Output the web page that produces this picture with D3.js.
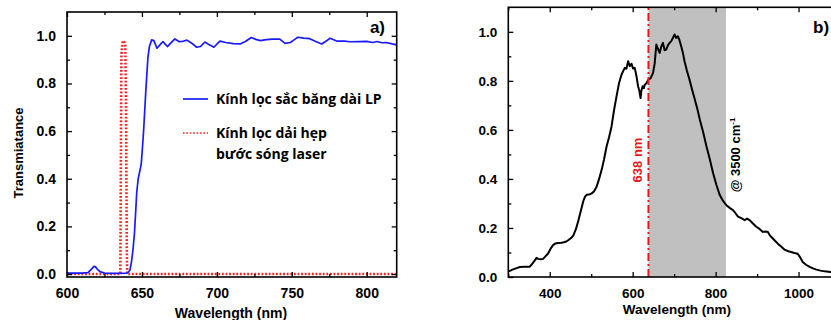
<!DOCTYPE html>
<html lang="vi">
<head>
<meta charset="utf-8">
<title>Transmittance and spectrum</title>
<script src="https://d3js.org/d3.v7.min.js"></script>
<style>
  body { margin: 0; background: #fff; }
  svg text { font-family: "Liberation Sans", Arial, sans-serif; font-weight: bold; }
  .legend { font-family: "Open Sans", "Noto Sans", sans-serif; font-weight: 700; font-size: 14px; }
</style>
</head>
<body>
<svg id="chart" width="831" height="320"></svg>
<script>
// ---- panel a) : filter transmittance ----
var lpWl = [600,605,610,614,616,618,619,620,622,625,630,635,640,641,642,643,644,645,646,646.5,647.5,648.5,649.5,650,651,652,652.5,653.5,654,655,656.5,658,660,662,664,665.5,667,669,672,675,678,680,683,686.5,689,692,695,698,702,706,711,715.5,719,723,726,729,733,737,742,745.5,749,752,754,758,762,766,770,773,775.5,780,785,789,795,800,804,807,810,813,817,820];
var lpT  = [0.004,0.004,0.004,0.006,0.018,0.032,0.03,0.022,0.01,0.004,0.003,0.003,0.004,0.008,0.017,0.05,0.1,0.17,0.28,0.34,0.4,0.43,0.46,0.5,0.59,0.7,0.76,0.86,0.91,0.955,0.983,0.98,0.948,0.962,0.976,0.965,0.955,0.968,0.987,0.975,0.978,0.982,0.97,0.952,0.955,0.974,0.962,0.952,0.978,0.972,0.967,0.966,0.976,0.993,0.985,0.98,0.984,0.986,0.986,0.968,0.972,0.985,0.994,0.99,0.988,0.976,0.966,0.978,0.99,0.978,0.978,0.975,0.976,0.977,0.972,0.976,0.971,0.972,0.966,0.962];
var laserWl = [600,635.6,635.9,636.3,637.0,637.6,638.2,638.9,639.4,639.9,640.2,820];
var laserT  = [0,0,0.4,0.92,0.97,0.98,0.975,0.96,0.7,0.1,0,0];

// ---- panel b) : emission spectrum ----
var spWl = [300,310,320,328,340,352,358,364,368,372,378,384,390,396,402,408,414,420,428,434,440,446,452,457,463,469,475,481,485,489,495,501,507,513,519,525,531,537,543,549,555,561,567,573,577,581,585,589,593,597,601,605,609,613,616,619,621,624,627,629,633,638,643,649,653,657,661,665,669,673,677,681,685,689,693,697,701,705,709,713,717,721,725,731,737,744,750,756,762,770,778,786,794,802,810,818,826,834,842,848,854,862,870,876,882,890,898,906,914,920,926,930,934,942,950,958,966,974,982,990,998,1004,1010,1018,1027,1035,1043,1053,1063,1077,1090,1100];
var spI  = [0.022,0.03,0.036,0.041,0.042,0.042,0.055,0.068,0.078,0.074,0.072,0.074,0.085,0.096,0.115,0.13,0.137,0.139,0.14,0.142,0.145,0.152,0.16,0.17,0.195,0.23,0.27,0.31,0.328,0.335,0.336,0.341,0.35,0.368,0.4,0.436,0.48,0.532,0.57,0.614,0.68,0.737,0.79,0.825,0.84,0.853,0.85,0.88,0.86,0.87,0.85,0.853,0.82,0.778,0.76,0.73,0.76,0.778,0.77,0.784,0.79,0.805,0.81,0.832,0.87,0.948,0.93,0.914,0.94,0.955,0.925,0.928,0.945,0.955,0.962,0.975,0.989,0.975,0.982,0.965,0.941,0.915,0.88,0.84,0.805,0.76,0.723,0.685,0.641,0.59,0.532,0.48,0.423,0.375,0.334,0.31,0.293,0.282,0.273,0.26,0.246,0.24,0.232,0.238,0.232,0.218,0.205,0.196,0.184,0.186,0.184,0.172,0.164,0.15,0.136,0.124,0.112,0.106,0.102,0.098,0.095,0.08,0.061,0.05,0.041,0.035,0.03,0.026,0.023,0.02,0.018,0.017];
var laserLine = 638;
var bandEnd = 825;

// ticks
var aXMajor = [600,650,700,750,800], aXMinor = [625,675,725,775];
var bXMajor = [400,600,800,1000], bXMinor = [300,500,700,900,1100];
var yMajor = [0,0.2,0.4,0.6,0.8,1.0], yMinor = [0.1,0.3,0.5,0.7,0.9];

var svg = d3.select("#chart");
var fmt = d3.format(".1f");

function frame(g, x, y, xMaj, xMin, fs) {
  var r = x.range(), t = y.range();
  var w = r[1] - r[0], h = t[0] - t[1];
  var axes = [
    [d3.axisBottom(x).tickValues(xMaj).tickFormat(d3.format("d")), "translate(0," + t[0] + ")", true],
    [d3.axisBottom(x).tickValues(xMin).tickFormat(""), "translate(0," + t[0] + ")", false],
    [d3.axisTop(x).tickValues(xMaj).tickFormat(""), "translate(0," + t[1] + ")", true],
    [d3.axisTop(x).tickValues(xMin).tickFormat(""), "translate(0," + t[1] + ")", false],
    [d3.axisLeft(y).tickValues(yMajor).tickFormat(fmt), "translate(" + r[0] + ",0)", true],
    [d3.axisLeft(y).tickValues(yMinor).tickFormat(""), "translate(" + r[0] + ",0)", false],
    [d3.axisRight(y).tickValues(yMajor).tickFormat(""), "translate(" + r[1] + ",0)", true],
    [d3.axisRight(y).tickValues(yMinor).tickFormat(""), "translate(" + r[1] + ",0)", false]
  ];
  axes.forEach(function(a) {
    var ax = a[0].tickSizeInner(a[2] ? -5 : -3).tickSizeOuter(0).tickPadding(a[2] ? 11 : 0);
    var gg = g.append("g").attr("transform", a[1]).call(ax);
    gg.select(".domain").remove();
    gg.selectAll("line").attr("stroke", "#000").attr("stroke-width", 1.3);
    gg.selectAll("text").attr("font-size", fs).attr("fill", "#000")
      .style("font-family", "'Liberation Sans', Arial, sans-serif").style("font-weight", "bold");
  });
  g.append("rect").attr("x", r[0]).attr("y", t[1]).attr("width", w).attr("height", h)
    .attr("fill", "none").attr("stroke", "#000").attr("stroke-width", 1.6);
}

// ---------- panel a ----------
var xa = d3.scaleLinear().domain([600, 820]).range([67, 396.7]);
var ya = d3.scaleLinear().domain([-0.0125, 1.1]).range([277, 12]);
var ga = svg.append("g");
ga.append("defs").append("clipPath").attr("id", "clipA").append("rect")
  .attr("x", 67).attr("y", 12).attr("width", 329.7).attr("height", 265);

var lineA = d3.line().x(function(d) { return xa(d[0]); }).y(function(d) { return ya(d[1]); });
ga.append("path").datum(d3.zip(laserWl, laserT)).attr("clip-path", "url(#clipA)")
  .attr("d", lineA).attr("fill", "none").attr("stroke", "#ff2020").attr("stroke-width", 2.6)
  .attr("stroke-dasharray", "1.8,1.8");
ga.append("path").datum(d3.zip(lpWl, lpT)).attr("clip-path", "url(#clipA)")
  .attr("d", lineA).attr("fill", "none").attr("stroke", "#1a1aff").attr("stroke-width", 1.7)
  .attr("stroke-linejoin", "round");

frame(ga, xa, ya, aXMajor, aXMinor, 14);

ga.append("text").attr("x", 385).attr("y", 33).attr("text-anchor", "end").attr("font-size", 17).text("a)");
ga.append("text").attr("transform", "translate(23,153) rotate(-90)").attr("text-anchor", "middle")
  .attr("font-size", 13).text("Transmiatance");
ga.append("text").attr("x", 231).attr("y", 318).attr("text-anchor", "middle").attr("font-size", 14).text("Wavelength (nm)");

// legend
ga.append("line").attr("x1", 183).attr("x2", 208).attr("y1", 99).attr("y2", 99)
  .attr("stroke", "#1a1aff").attr("stroke-width", 1.7);
ga.append("text").attr("class", "legend").attr("x", 216).attr("y", 104).text("Kính lọc sắc băng dài LP");
ga.append("line").attr("x1", 183).attr("x2", 208).attr("y1", 133).attr("y2", 133)
  .attr("stroke", "#ff2020").attr("stroke-width", 1.6).attr("stroke-dasharray", "1.6,1.8");
ga.append("text").attr("class", "legend").attr("x", 216).attr("y", 138).text("Kính lọc dải hẹp");
ga.append("text").attr("class", "legend").attr("x", 216).attr("y", 159).text("bước sóng laser");

// ---------- panel b ----------
var xb = d3.scaleLinear().domain([300, 1100]).range([508.3, 840]);
var yb = d3.scaleLinear().domain([0, 1.1]).range([277, 7.3]);
var gb = svg.append("g");

gb.append("rect").attr("x", xb(laserLine)).attr("y", yb(1.1))
  .attr("width", xb(bandEnd) - xb(laserLine)).attr("height", yb(0) - yb(1.1)).attr("fill", "#c0c0c0");

var lineB = d3.line().x(function(d) { return xb(d[0]); }).y(function(d) { return yb(d[1]); });
gb.append("path").datum(d3.zip(spWl, spI)).attr("d", lineB).attr("fill", "none")
  .attr("stroke", "#000").attr("stroke-width", 2).attr("stroke-linejoin", "round");

gb.append("line").attr("x1", xb(laserLine)).attr("x2", xb(laserLine)).attr("y1", yb(0)).attr("y2", yb(1.1))
  .attr("stroke", "#e8181e").attr("stroke-width", 2).attr("stroke-dasharray", "8,3,2,3");

frame(gb, xb, yb, bXMajor, bXMinor, 13.5);

gb.append("text").attr("x", 813).attr("y", 33).attr("font-size", 17).text("b)");
gb.append("text").attr("transform", "translate(" + (xb(laserLine) - 6) + ",160) rotate(-90)")
  .attr("text-anchor", "middle").attr("font-size", 13).attr("fill", "#e8181e").text("638 nm");
var ann = gb.append("text").attr("transform", "translate(" + (xb(bandEnd) + 14) + ",155) rotate(-90)")
  .attr("text-anchor", "middle").attr("font-size", 13).attr("fill", "#000");
ann.append("tspan").text("@ 3500 cm");
ann.append("tspan").attr("dy", -5).attr("font-size", 8).text("-1");
gb.append("text").attr("x", 677).attr("y", 314).attr("text-anchor", "middle").attr("font-size", 13.5).text("Wavelength (nm)");
</script>
</body>
</html>
